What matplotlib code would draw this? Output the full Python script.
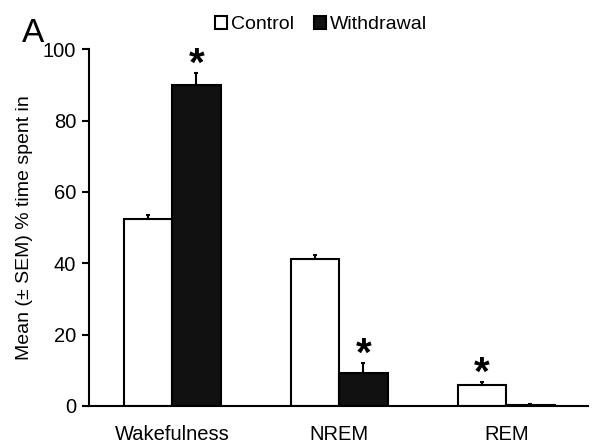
import numpy as np
import matplotlib
matplotlib.use("Agg")
import matplotlib.pyplot as plt

plt.rcParams["font.family"] = ["Liberation Sans", "DejaVu Sans"]

# values
stages = ["Wakefulness", "NREM", "REM"]
control_mean = [52.4, 41.3, 5.9]
control_sem = [1.1, 1.1, 0.7]
withdrawal_mean = [89.9, 9.2, 0.3]
withdrawal_sem = [3.4, 2.8, 0.1]
# which bars carry a significance star: (group, stage index)
stars = [("withdrawal", 0), ("withdrawal", 1), ("control", 2)]
yticks = [0, 20, 40, 60, 80, 100]

fig = plt.figure(figsize=(6.0, 4.47), dpi=100)
ax = fig.add_axes([0.148, 0.092, 0.832, 0.798])

x = np.arange(len(stages))
w = 0.29
err_kw = dict(ecolor="black", elinewidth=1.5, capsize=1.5, capthick=1.5)
ax.bar(x - w / 2, control_mean, w, color="white", edgecolor="black", linewidth=1.5,
       yerr=[np.zeros(3), control_sem], error_kw=err_kw, label="Control", zorder=2)
ax.bar(x + w / 2, withdrawal_mean, w, color="#111111", edgecolor="black", linewidth=1.5,
       yerr=[np.zeros(3), withdrawal_sem], error_kw=err_kw, label="Withdrawal", zorder=2)

# stars sit just above the error bar tips
for group, i in stars:
    if group == "control":
        xs, top = x[i] - w / 2, control_mean[i] + control_sem[i]
    else:
        xs, top = x[i] + w / 2, withdrawal_mean[i] + withdrawal_sem[i]
    ax.text(xs, top - 0.7, "*", ha="center", va="baseline", fontsize=29,
            fontweight="bold")

ax.set_xlim(-0.5, 2.49)
ax.set_ylim(0, 100)
ax.set_yticks(yticks)
ax.set_xticks(x)
ax.set_xticklabels(stages, fontsize=14.5)
ax.tick_params(axis="x", length=0, pad=14)
ax.tick_params(axis="y", labelsize=14.5, width=1.5, length=5, direction="out", pad=4)
for s in ["top", "right"]:
    ax.spines[s].set_visible(False)
for s in ["left", "bottom"]:
    ax.spines[s].set_linewidth(1.5)
ax.set_ylabel("Mean (\u00b1 SEM) % time spent in", fontsize=14, labelpad=7)

ax.legend(loc="center", bbox_to_anchor=(0.465, 1.07), ncol=2, frameon=False,
          fontsize=14, handlelength=0.65, handleheight=0.65, handletextpad=0.2,
          columnspacing=1.0, borderaxespad=0)

fig.text(0.036, 0.905, "A", fontsize=24)

fig.savefig("out.png", dpi=100, facecolor="white")
